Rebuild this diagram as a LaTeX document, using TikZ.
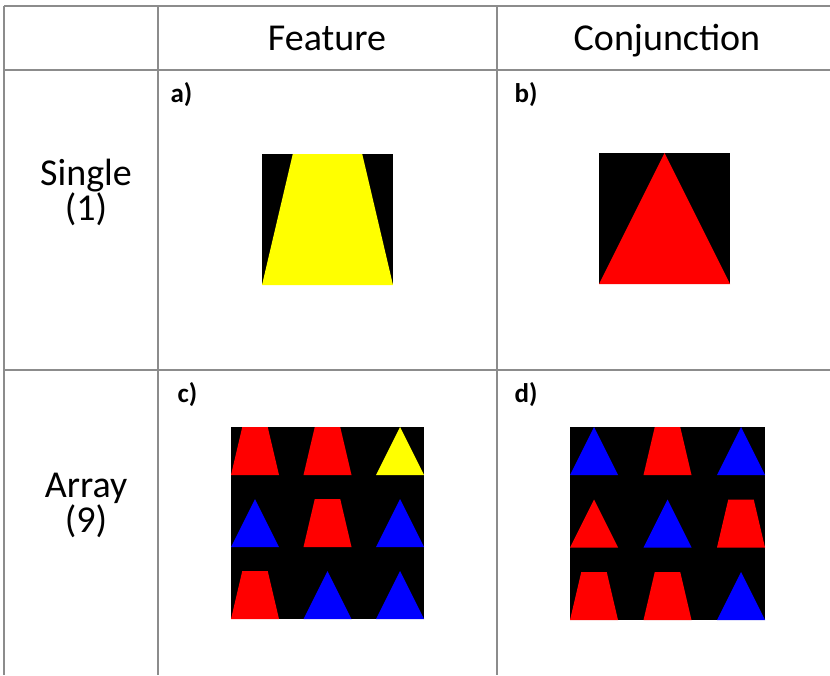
\documentclass[tikz,border=0pt]{standalone}
\usepackage{fontspec}
\setmainfont{Carlito}
\definecolor{gridgray}{RGB}{140,140,140}
\definecolor{pureyellow}{RGB}{255,255,0}
\tikzset{
  rule/.style={draw=gridgray, line width=2pt},
  head/.style={anchor=base, font=\fontsize{38}{40}\selectfont},
  panel/.style={anchor=base west, font=\fontsize{27}{29}\selectfont\bfseries},
  pics/trap/.style={code={\fill[#1] (0.235,0) -- (0.765,0) -- (1,1) -- (0,1) -- cycle;}},
  pics/tri/.style={code={\fill[#1] (0.5,0) -- (1,1) -- (0,1) -- cycle;}}
}
\begin{document}
\begin{tikzpicture}[x=1pt, y=-1pt]
\useasboundingbox (0,0) rectangle (830,675);

% --- Definir coordenadas de la tabla ---
\coordinate (TL) at (4,6);
\coordinate (TR) at (830,6);
\coordinate (HL) at (4,70);
\coordinate (HR) at (830,70);
\coordinate (ML) at (4,370);
\coordinate (MR) at (830,370);
\coordinate (BL) at (4,675);
\coordinate (C1) at (158,6);
\coordinate (C1b) at (158,675);
\coordinate (C2) at (497,6);
\coordinate (C2b) at (497,675);

% --- Lineas de la tabla ---
\draw[rule] (TL) -- (TR);
\draw[rule] (HL) -- (HR);
\draw[rule] (ML) -- (MR);
\draw[rule] (TL) -- (BL);
\draw[rule] (C1) -- (C1b);
\draw[rule] (C2) -- (C2b);

% --- Encabezados ---
\node[head] (feature) at (327,50) {Feature};
\node[head] (conj) at (667,50) {Conjunction};
\node[head] (single) at (86,185) {Single};
\node[head] (one) at (86,220) {(1)};
\node[head] (array) at (86,497) {Array};
\node[head] (nine) at (86,532) {(9)};

% --- Etiquetas de paneles ---
\node[panel] (pa) at (167,102) {a)};
\node[panel] (pb) at (511,102) {b)};
\node[panel] (pc) at (174,402) {c)};
\node[panel] (pd) at (511,402) {d)};

% --- a) y b): un solo objeto ---
\fill[black] (262,154) rectangle (393,285);
\pic[scale=131] at (262,154) {trap=pureyellow};
\fill[black] (599,153) rectangle (730,284);
\pic[scale=131] at (599,153) {tri=red};

% --- c) arreglo de nueve objetos ---
\fill[black] (231,427) rectangle (424,619);
\foreach \s/\c [count=\i from 0] in
  {trap/red, trap/red, tri/pureyellow,
   tri/blue, trap/red, tri/blue,
   trap/red, tri/blue, tri/blue} {
  \pgfmathtruncatemacro\col{mod(\i,3)}
  \pgfmathtruncatemacro\row{\i/3}
  \pic[scale=48] at (231+\col*72.5, 427+\row*72) {\s=\c};
}

% --- d) arreglo de nueve objetos ---
\fill[black] (570,427) rectangle (765,620);
\foreach \s/\c [count=\i from 0] in
  {tri/blue, trap/red, tri/blue,
   tri/red, tri/blue, trap/red,
   trap/red, trap/red, tri/blue} {
  \pgfmathtruncatemacro\col{mod(\i,3)}
  \pgfmathtruncatemacro\row{\i/3}
  \pic[scale=48] at (570+\col*73.5, 427+\row*72.5) {\s=\c};
}

\end{tikzpicture}
\end{document}
